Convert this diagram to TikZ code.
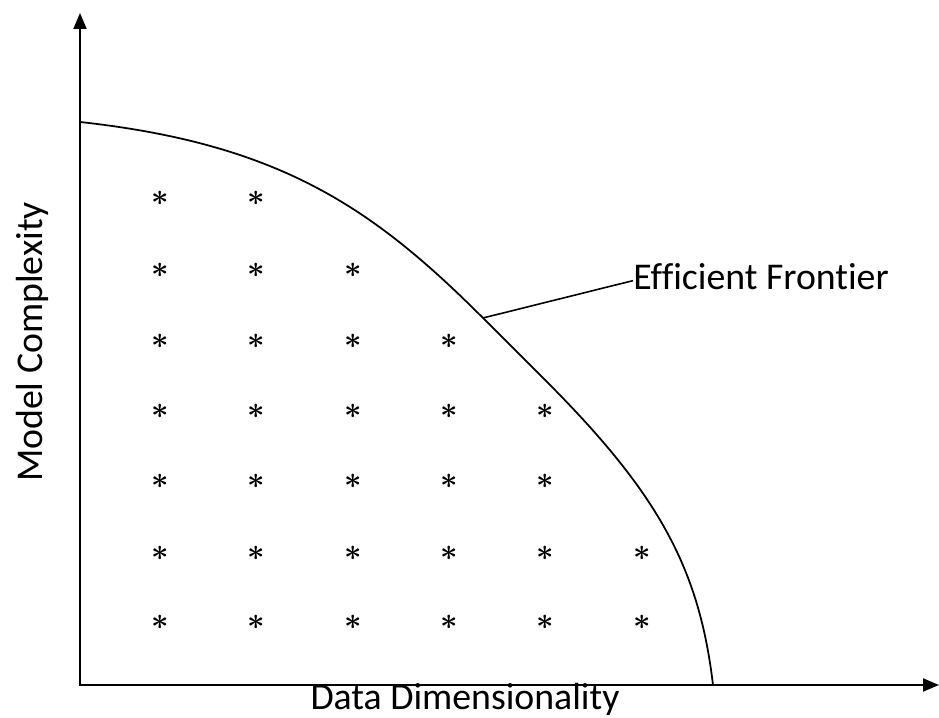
\documentclass[tikz,border=0pt]{standalone}
\usepackage{fontspec}
\setmainfont{Carlito}[Ligatures=NoCommon]
\usetikzlibrary{arrows.meta}

\begin{document}
\begin{tikzpicture}[
        axis/.style={line width=1.1pt, {Triangle[length=0.32cm, width=0.26cm]}-{Triangle[length=0.32cm, width=0.26cm]}},
        curve/.style={line width=1pt},
        axislabel/.style={inner sep=0pt, font=\fontsize{21.5}{26}\selectfont},
        asterisk/.style={inner sep=0pt, font=\fontsize{19}{19}\selectfont\boldmath}
    ]
    \useasboundingbox (-1.6, -0.66) rectangle (17.18, 13.7);
    \coordinate (O) at (0, 0);
    \coordinate (ytip) at (0, 13.44);
    \coordinate (xtip) at (17.18, 0);
    \draw[axis] (ytip) -- (O) -- (xtip);
    % the frontier
    \draw[curve] (0, 11.26) .. controls (4, 10.82) and (5.86, 9.54) .. (8.06, 7.34) coordinate (touch)
        -- (9.5, 5.9) .. controls (11.6, 3.76) and (12.39, 2.29) .. (12.66, 0);
    \node[axislabel, anchor=base west] (frontier) at (11.06, 7.9) {Efficient Frontier};
    \draw[line width=0.9pt] (touch) -- ([yshift=-2pt]frontier.west);
    \node[axislabel, anchor=base] (xlabel) at (7.7, -0.5) {Data Dimensionality};
    \node[axislabel, anchor=base, rotate=90] (ylabel) at (-0.74, 6.86) {Model Complexity};
    % points under the frontier
    \foreach \y/\n [count=\r] in {9.74/2, 8.3/3, 6.88/4, 5.48/5, 4.08/5, 2.64/6, 1.26/6}
        \foreach \c in {1, ..., \n}
            \node[asterisk] (a-\r-\c) at ({1.6 + 1.928 * (\c - 1)}, \y) {$\ast$};
\end{tikzpicture}
\end{document}
